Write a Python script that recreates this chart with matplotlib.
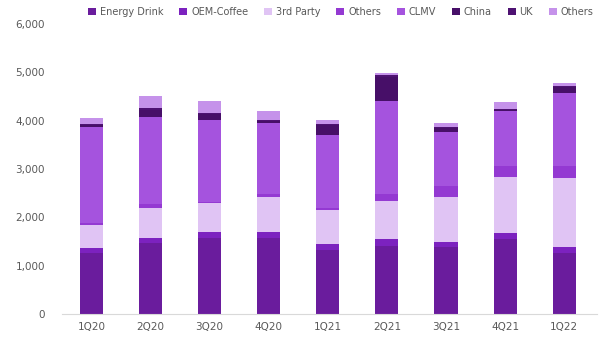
from matplotlib import pyplot as plt
from matplotlib.ticker import FuncFormatter
import numpy as np

quarters = ["1Q20", "2Q20", "3Q20", "4Q20", "1Q21", "2Q21", "3Q21", "4Q21", "1Q22"]

energy_drink = [1255, 1462, 1566, 1566, 1324, 1407, 1379, 1545, 1269]
oem_coffee = [117, 117, 124, 124, 117, 138, 118, 124, 124]
third_party = [469, 607, 613, 738, 711, 800, 917, 1172, 1415]
others_a = [49, 90, 17, 55, 34, 138, 241, 221, 254]
clmv = [1972, 1807, 1694, 1476, 1518, 1931, 1118, 1145, 1517]
china = [56, 142, 121, 35, 197, 491, 64, 20, 108]
uk = [20, 30, 30, 20, 30, 40, 25, 15, 30]
others_b = [110, 255, 242, 186, 83, 48, 83, 151, 56]

series = [
    ("Energy Drink", energy_drink, "#6a1c9d"),
    ("OEM-Coffee", oem_coffee, "#7c22bf"),
    ("3rd Party", third_party, "#e0c4f4"),
    ("Others", others_a, "#9439d2"),
    ("CLMV", clmv, "#a553de"),
    ("China", china, "#470f68"),
    ("UK", uk, "#4e1272"),
    ("Others", others_b, "#c592ea"),
]

fig = plt.figure(figsize=(6.12, 3.43), dpi=100)
ax = fig.add_axes([0.101, 0.085, 0.874, 0.845])

x = np.arange(len(quarters))
bottom = np.zeros(len(quarters))
for name, vals, col in series:
    ax.bar(x, vals, 0.39, bottom=bottom, color=col, label=name, zorder=2)
    bottom += np.array(vals)

ax.set_xlim(-0.5, 8.55)
ax.set_ylim(0, 6000)
ax.set_yticks(range(0, 6001, 1000))
ax.yaxis.set_major_formatter(FuncFormatter(lambda v, p: f"{int(v):,}"))
ax.set_xticks(x)
ax.set_xticklabels(quarters)
ax.tick_params(axis="both", length=0, labelsize=7.5, colors="#595959")
ax.tick_params(axis="y", pad=12)
ax.tick_params(axis="x", pad=6)

for s in ["top", "right", "left"]:
    ax.spines[s].set_visible(False)
ax.spines["bottom"].set_color("#d9d9d9")

fig.legend(loc="upper left", bbox_to_anchor=(0.133, 1.0), ncol=8, frameon=False,
           fontsize=7, handlelength=0.8, handleheight=0.8, handletextpad=0.4,
           columnspacing=1.65, labelcolor="#595959", borderaxespad=0.3)

plt.savefig("out.png", dpi=100)
plt.close()
